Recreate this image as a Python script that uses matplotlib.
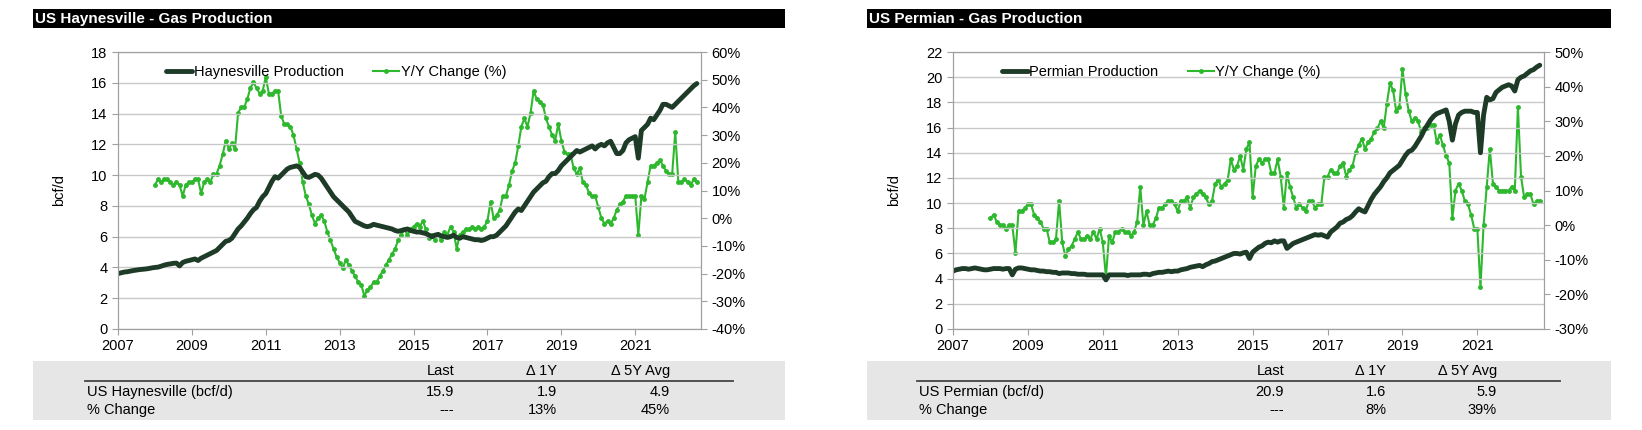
import matplotlib
matplotlib.use("Agg")
import matplotlib.pyplot as plt
import numpy as np

plt.rcParams['font.family'] = ['Liberation Sans', 'DejaVu Sans']

# ---------------- data (monthly) ----------------
hay_prod = [
 3.6,3.65,3.7,3.72,3.76,3.8,3.83,3.86,3.88,3.9,3.93,3.97,
 4.0,4.02,4.08,4.15,4.2,4.23,4.27,4.28,4.1,4.32,4.4,4.45,
 4.5,4.55,4.45,4.6,4.7,4.8,4.9,5.0,5.1,5.3,5.5,5.7,
 5.75,5.9,6.2,6.5,6.7,6.95,7.2,7.5,7.75,7.9,8.3,8.6,
 8.8,9.2,9.6,9.9,9.8,10.0,10.2,10.4,10.5,10.55,10.6,10.5,
 10.2,9.9,9.85,9.95,10.05,10.0,9.8,9.5,9.2,8.9,8.6,8.4,
 8.2,8.0,7.8,7.6,7.3,7.0,6.9,6.8,6.7,6.65,6.7,6.8,
 6.75,6.7,6.65,6.6,6.55,6.5,6.4,6.35,6.4,6.45,6.5,6.4,
 6.35,6.3,6.3,6.25,6.2,6.1,6.0,6.1,6.15,6.05,6.0,5.95,
 6.0,6.1,5.95,5.9,6.0,5.95,5.9,5.85,5.8,5.8,5.75,5.8,
 5.9,6.0,6.0,6.1,6.3,6.5,6.7,7.0,7.3,7.6,7.8,7.7,
 8.0,8.3,8.6,8.9,9.1,9.3,9.5,9.6,9.9,10.1,10.1,10.3,
 10.6,10.8,11.0,11.2,11.4,11.6,11.5,11.6,11.7,11.8,11.9,11.7,
 11.9,12.0,11.9,12.1,12.2,11.8,11.4,11.4,11.6,12.1,12.3,12.4,
 12.5,11.1,12.9,13.1,13.3,13.7,13.6,13.9,14.2,14.6,14.6,14.5,
 14.4,14.6,14.8,15.0,15.2,15.4,15.6,15.8,15.95]
hay_yoy = [
 12,14,13,14,14,13,12,13,12,8,12,13,
 13,14,14,9,13,14,13,16,16,19,23,28,
 25,27,25,38,40,40,43,47,49,47,45,46,
 51,45,45,46,46,37,34,34,33,30,25,20,
 13,8,5,1,-2,0,1,-1,-5,-8,-11,-14,
 -16,-18,-15,-17,-19,-21,-23,-24,-28,-26,-25,-23,
 -23,-21,-19,-17,-15,-13,-11,-8,-6,-4,-6,-4,
 -3,-2,-3,-1,-4,-7,-6,-8,-6,-8,-5,-6,
 -3,-5,-11,-6,-5,-4,-4,-3,-4,-3,-4,-3,
 -1,6,0,1,3,8,8,12,17,20,26,33,
 36,33,38,46,43,42,41,36,33,30,28,34,
 28,24,23,23,18,16,18,13,12,9,8,8,
 4,0,-2,-1,-2,0,3,5,6,8,8,8,
 8,-6,8,7,13,19,19,20,21,19,17,16,
 16,31,13,13,14,13,12,14,13]
per_prod = [
 4.6,4.7,4.75,4.8,4.8,4.75,4.8,4.85,4.8,4.75,4.7,4.7,
 4.75,4.8,4.8,4.8,4.75,4.8,4.8,4.3,4.75,4.85,4.85,4.8,
 4.75,4.7,4.7,4.65,4.6,4.6,4.55,4.55,4.5,4.5,4.4,4.45,
 4.45,4.45,4.4,4.4,4.35,4.35,4.35,4.3,4.3,4.3,4.3,4.3,
 4.3,3.9,4.3,4.3,4.3,4.3,4.3,4.3,4.25,4.3,4.3,4.3,
 4.3,4.35,4.35,4.3,4.4,4.45,4.5,4.5,4.55,4.6,4.55,4.6,
 4.6,4.7,4.75,4.8,4.9,4.95,5.0,5.05,4.95,5.1,5.2,5.35,
 5.4,5.5,5.6,5.7,5.8,5.9,6.0,6.0,5.95,6.05,6.1,5.6,
 6.1,6.3,6.5,6.6,6.8,6.9,6.85,7.0,6.9,7.0,7.0,6.4,
 6.6,6.8,6.9,7.0,7.1,7.2,7.3,7.4,7.5,7.45,7.5,7.4,
 7.3,7.7,7.9,8.1,8.4,8.5,8.7,8.8,9.0,9.3,9.55,9.4,
 9.3,9.8,10.3,10.7,11.0,11.3,11.7,12.0,12.4,12.6,12.8,13.0,
 13.4,13.8,14.1,14.2,14.5,14.9,15.3,15.8,16.2,16.6,16.9,17.1,
 17.2,17.3,17.4,16.5,15.0,16.3,17.0,17.2,17.3,17.3,17.3,17.2,
 17.2,14.0,17.0,18.4,18.2,18.3,18.8,19.0,19.2,19.3,19.4,19.3,
 18.9,19.8,20.0,20.1,20.3,20.5,20.6,20.8,20.95]
per_yoy = [
 2,3,1,0,0,-1,0,0,-8,4,4,5,
 6,6,3,2,1,-1,-1,-5,-5,-4,7,-5,
 -9,-7,-6,-4,-2,-4,-4,-3,-4,-2,-4,-1,
 -5,-15,-3,-5,-2,-2,-1,-2,-2,-3,-2,1,
 11,0,4,0,0,2,5,5,6,7,7,6,
 4,7,7,8,5,8,9,10,9,8,6,7,
 12,13,11,12,13,19,16,17,20,16,22,24,
 8,17,19,18,19,19,15,15,19,14,5,15,
 11,8,5,6,5,4,7,7,5,6,6,14,
 14,16,15,15,17,18,14,16,17,21,23,25,
 22,24,25,27,28,30,28,35,41,39,33,34,
 45,38,33,30,31,30,27,28,28,29,29,24,
 26,23,20,18,2,10,12,10,7,6,3,-1,
 -1,-18,0,11,22,12,11,10,10,10,10,11,
 10,34,14,8,9,9,6,7,7]

hay_table = [["US Haynesville (bcf/d)", "15.9", "1.9", "4.9"], ["% Change", "---", "13%", "45%"]]
per_table = [["US Permian (bcf/d)", "20.9", "1.6", "5.9"], ["% Change", "---", "8%", "39%"]]
headers = ["Last", "\u0394 1Y", "\u0394 5Y Avg"]

W, H = 1642, 430
fig = plt.figure(figsize=(W/100, H/100), dpi=100)
DARK = '#1e3b28'
LIGHT = '#2eb82e'

def px(x0, y0, x1, y1):
    return [x0/W, 1-y1/H, (x1-x0)/W, (y1-y0)/H]

def panel(ax_rect, bar, band, lines, cols, title, prod, yoy, plabel, ymax, ystep, r2lim, r2step, table):
    tb = fig.add_axes(px(*bar)); tb.set_facecolor('black')
    tb.set_xticks([]); tb.set_yticks([])
    for s in tb.spines.values(): s.set_visible(False)
    tb.text(0.003, 0.45, title, color='white', fontsize=11, fontweight='bold', va='center', transform=tb.transAxes)
    gb = fig.add_axes(px(*band)); gb.set_facecolor('#e6e6e6')
    gb.set_xticks([]); gb.set_yticks([])
    for s in gb.spines.values(): s.set_visible(False)
    gb.set_xlim(band[0], band[2]); gb.set_ylim(band[3], band[1])
    gb.plot([lines[0], lines[1]], [381, 381], color='#444444', lw=1.3)
    for c, h in zip(cols, headers):
        gb.text(c, 378, h, ha='right', va='bottom', fontsize=10.5)
    for ry, row in zip([392, 410], table):
        gb.text(lines[0]+2, ry, row[0], ha='left', va='center', fontsize=10.5)
        for c, v in zip(cols, row[1:]):
            gb.text(c, ry, v, ha='right', va='center', fontsize=10.5)

    ax = fig.add_axes(px(*ax_rect))
    t1 = 2007 + np.arange(len(prod))/12.0
    t2 = 2008 + np.arange(len(yoy))/12.0
    ax2 = ax.twinx()
    ax.set_zorder(ax2.get_zorder()+1); ax.patch.set_visible(False)
    ax2.plot(t2, yoy, color=LIGHT, lw=1.5, marker='o', ms=2.5, label='Y/Y Change (%)')
    ax.plot(t1, prod, color=DARK, lw=3.5, label=plabel, solid_capstyle='round')
    ax.set_xlim(2007, 2022.78)
    ax.set_xticks(range(2007, 2023, 2))
    ax.set_ylim(0, ymax); ax.set_yticks(np.arange(0, ymax+0.1, ystep))
    ax2.set_ylim(*r2lim)
    ax2.set_yticks(np.arange(r2lim[0], r2lim[1]+0.1, r2step))
    ax2.set_yticklabels([f"{int(v)}%" for v in ax2.get_yticks()])
    ax.grid(axis='y', color='#c8c8c8', lw=1)
    for a in (ax, ax2):
        for s in a.spines.values(): s.set_color('#a0a0a0')
        a.tick_params(labelsize=10.5, color='#a0a0a0', length=4)
    ax.set_ylabel('bcf/d', fontsize=10.5, labelpad=18)
    h1, l1 = ax.get_legend_handles_labels(); h2, l2 = ax2.get_legend_handles_labels()
    ax.legend(h1+h2, l1+l2, loc='upper left', bbox_to_anchor=(0.06, 1.0), ncol=2, frameon=False,
              fontsize=10.5, handlelength=1.8, handletextpad=0.1, columnspacing=2.0)

panel((118, 52, 701, 329), (33, 9, 785, 28), (33, 361, 785, 420), (85, 733), (454, 557, 670),
      "US Haynesville - Gas Production", hay_prod, hay_yoy, "Haynesville Production",
      18, 2, (-40, 60), 10, hay_table)
panel((953, 52, 1544, 329), (867, 9, 1611, 28), (867, 361, 1611, 420), (917, 1560), (1284, 1386, 1497),
      "US Permian - Gas Production", per_prod, per_yoy, "Permian Production",
      22, 2, (-30, 50), 10, per_table)

fig.savefig('out.png', dpi=100)
